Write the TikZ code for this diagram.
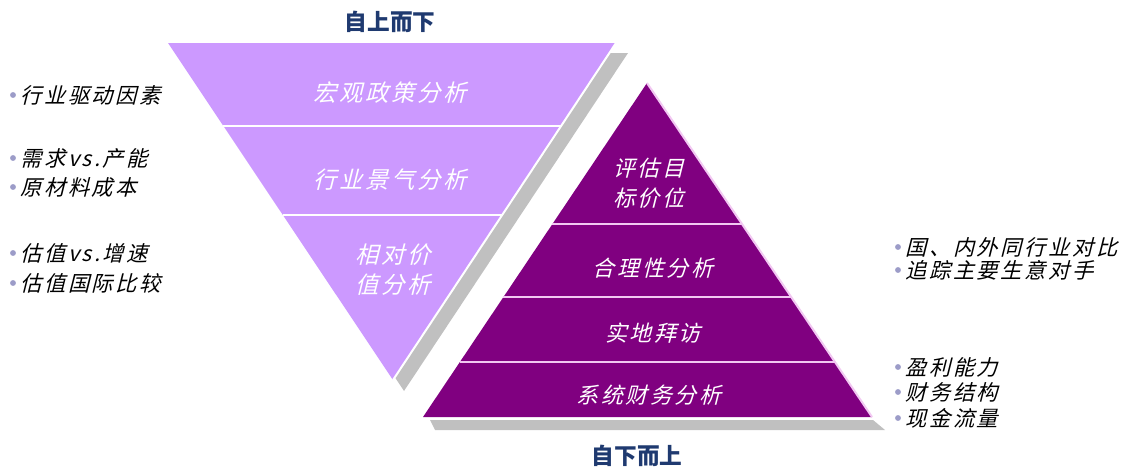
\documentclass[tikz,border=0pt]{standalone}
\usepackage{fontspec}
\usetikzlibrary{calc}
\newfontfamily\cjkit[FakeSlant=0.25,LetterSpace=12]{Noto Sans CJK SC}
\newfontfamily\cjkhead{Noto Sans CJK SC}
\definecolor{lilac}{HTML}{CC99FF}
\definecolor{plum}{HTML}{800080}
\definecolor{drop}{HTML}{C0C0C0}
\definecolor{navy}{HTML}{1F3A70}
\definecolor{dotc}{HTML}{9C9CC8}
\definecolor{rim}{HTML}{F2C8F2}
\tikzset{
  headline/.style={text=navy,font=\cjkhead\bfseries\fontsize{17}{20}\selectfont},
  band/.style={text=white,align=center,font=\cjkit\fontsize{16.5}{22.5}\selectfont},
  item/.style={anchor=west,inner sep=0pt,font=\cjkit\fontsize{16}{20}\selectfont},
}
\newcommand{\dotat}[1]{\fill[dotc] ($(#1.west)+(-7,0)$) circle (2.2pt);}
\begin{document}
\begin{tikzpicture}[x=0.75pt,y=-0.75pt]
\useasboundingbox (0,0) rectangle (1140,471);
% top-down funnel
\coordinate (tl) at (168,43); \coordinate (tr) at (616,43); \coordinate (tb) at (393,380);
\fill[drop] ($(tl)+(12,10)$)--($(tr)+(12,10)$)--($(tb)+(11,11)$)--cycle;
\fill[lilac] (tl)--(tr)--(tb)--cycle;
\draw[white,line width=1.5pt] (tr)--(tb);
\draw[white,line width=1.2pt] ($(tl)!.246!(tb)$)--($(tr)!.246!(tb)$) ($(tl)!.51!(tb)$)--($(tr)!.51!(tb)$);
% bottom-up pyramid
\coordinate (pa) at (647,83); \coordinate (pl) at (423,417); \coordinate (pr) at (872,417);
\fill[drop] (430,420)--(873,420)--(885,430)--(435,430)--cycle;
\fill[plum] (pa)--(pl)--(pr)--cycle;
\draw[rim,line width=1.5pt] (pa)--(pr);
\draw[rim,line width=1pt] ($(pa)!.422!(pl)$)--($(pa)!.422!(pr)$) ($(pa)!.641!(pl)$)--($(pa)!.641!(pr)$)
  ($(pa)!.835!(pl)$)--($(pa)!.835!(pr)$);
% headings
\node[headline] (topdown) at (390,22) {自上而下};
\node[headline] (bottomup) at (637,456) {自下而上};
% funnel bands
\node[band,font=\cjkit\fontsize{17.5}{22.5}\selectfont] (macro) at (390,93) {宏观政策分析};
\node[band,font=\cjkit\fontsize{17.5}{22.5}\selectfont] (sector) at (390,180) {行业景气分析};
\node[band,font=\cjkit\fontsize{17.5}{22.5}\selectfont] (relval) at (393,270) {相对价\\值分析};
% pyramid bands
\node[band] (target) at (649,183) {评估目\\标价位};
\node[band] (reason) at (653,268) {合理性分析};
\node[band] (visit) at (653,333) {实地拜访};
\node[band] (finance) at (649,395) {系统财务分析};
% left notes
\node[item] (l1) at (20,95) {行业驱动因素}; \dotat{l1}
\node[item] (l2) at (20,158) {需求vs.产能}; \dotat{l2}
\node[item] (l3) at (20,187) {原材料成本}; \dotat{l3}
\node[item] (l4) at (20,253) {估值vs.增速}; \dotat{l4}
\node[item] (l5) at (20,283) {估值国际比较}; \dotat{l5}
% right notes
\node[item] (r1) at (905,247) {国、内外同行业对比}; \dotat{r1}
\node[item] (r2) at (905,270) {追踪主要生意对手}; \dotat{r2}
\node[item] (r3) at (905,367) {盈利能力}; \dotat{r3}
\node[item] (r4) at (905,392) {财务结构}; \dotat{r4}
\node[item] (r5) at (905,418) {现金流量}; \dotat{r5}
\end{tikzpicture}
\end{document}
